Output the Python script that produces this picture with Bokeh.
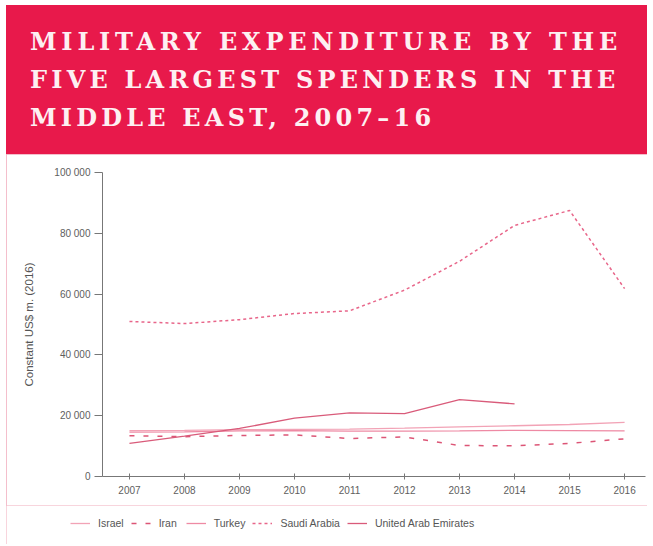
from bokeh.plotting import figure
from bokeh.models import Div, Legend, LegendItem, Range1d, CustomJSTickFormatter, FixedTicker
from bokeh.layouts import column, row
from bokeh.embed import file_html
from bokeh.resources import INLINE

# ---- data (constant US$ m., 2016) ----
years = [2007, 2008, 2009, 2010, 2011, 2012, 2013, 2014, 2015, 2016]
israel = [15100, 15200, 15400, 15500, 15600, 15900, 16300, 16700, 17100, 17800]
iran = [13400, 13100, 13500, 13700, 12500, 13000, 10200, 10100, 10900, 12400]
turkey = [14600, 14700, 15000, 15100, 14900, 14900, 15000, 15200, 15100, 15000]
saudi = [51000, 50300, 51600, 53600, 54500, 61300, 70800, 82600, 87500, 61800]
uae_years = [2007, 2008, 2009, 2010, 2011, 2012, 2013, 2014]
uae = [10900, 13300, 15800, 19200, 20900, 20700, 25300, 23900]
y_ticks = [0, 20000, 40000, 60000, 80000, 100000]
title_lines = ["MILITARY EXPENDITURE BY THE", "FIVE LARGEST SPENDERS IN THE", "MIDDLE EAST, 2007\u201316"]
title_spacing = [4.8, 4.2, 4.2]
y_label = "Constant US$ m. (2016)"

RED = "#e8194b"
BORDER = "#f0aabb"
FONT = "Liberation Sans"
W = 641

# ---- title block ----
lines_html = "".join(
    '<div style="letter-spacing:%spx;">%s</div>' % (ls, t) for t, ls in zip(title_lines, title_spacing)
)
title_html = (
    '<div style="width:%dpx;height:149px;background:%s;box-sizing:border-box;'
    'padding:18px 0 0 24px;font-family:\'DejaVu Serif\',serif;font-weight:bold;font-size:24px;'
    'line-height:38px;color:#fdf0f2;white-space:nowrap;">%s</div>'
    % (W, RED, lines_html)
)
title = Div(text=title_html, width=W, height=149, margin=0)

# ---- main plot ----
p = figure(width=W, height=351, x_range=Range1d(2006.51, 2016.38), y_range=Range1d(0, 100000),
           output_backend="svg", toolbar_location=None,
           min_border_left=96, min_border_right=2, min_border_top=18, min_border_bottom=29,
           styles={"outline": "1px solid " + BORDER, "outline-offset": "-1px"})
p.outline_line_color = None
p.grid.visible = False

p.yaxis.ticker = FixedTicker(ticks=y_ticks)
p.yaxis.formatter = CustomJSTickFormatter(code="return tick.toString().replace(/\\B(?=(\\d{3})+(?!\\d))/g, ' ');")
p.xaxis.ticker = FixedTicker(ticks=years)
p.yaxis.axis_label = y_label
p.yaxis.axis_label_standoff = 16
p.yaxis.axis_label_text_font_style = "normal"
p.yaxis.axis_label_text_font_size = "11.5px"
p.yaxis.axis_label_text_font = FONT
p.yaxis.axis_label_text_color = "#555555"

for ax in (p.xaxis, p.yaxis):
    ax.axis_line_color = "#777777"
    ax.major_tick_line_color = "#777777"
    ax.minor_tick_line_color = None
    ax.major_label_text_font = FONT
    ax.major_label_text_font_size = "10px"
    ax.major_label_text_color = "#5e5e5e"
p.yaxis.major_tick_out = 8
p.yaxis.major_tick_in = 0
p.yaxis.major_label_standoff = 4
p.xaxis.major_tick_out = 3
p.xaxis.major_tick_in = 3
p.xaxis.major_label_standoff = 6

styles = {
    "Israel": dict(color="#f2a3b6", width=1.3, dash="solid"),
    "Iran": dict(color="#dc5576", width=1.5, dash="5 9"),
    "Turkey": dict(color="#ee8aa4", width=1.3, dash="solid"),
    "Saudi Arabia": dict(color="#e8668a", width=1.5, dash="3 3"),
    "United Arab Emirates": dict(color="#d95b7a", width=1.3, dash="solid"),
}
series = {
    "Israel": (years, israel),
    "Iran": (years, iran),
    "Turkey": (years, turkey),
    "Saudi Arabia": (years, saudi),
    "United Arab Emirates": (uae_years, uae),
}
for name, (xs, ys) in series.items():
    s = styles[name]
    p.line(xs, ys, line_color=s["color"], line_width=s["width"], line_dash=s["dash"])

# ---- legend strip ----
lg = figure(width=W, height=39, output_backend="svg", toolbar_location=None,
            x_axis_type=None, y_axis_type=None, min_border=0,
            x_range=Range1d(0, 1), y_range=Range1d(0, 1),
            styles={"outline": "1px solid " + BORDER, "outline-offset": "-1px"})
lg.outline_line_color = None
lg.grid.visible = False
items = []
for name in series:
    s = styles[name]
    r = lg.line([-10, -9], [-10, -10], line_color=s["color"], line_width=s["width"], line_dash=s["dash"])
    items.append(LegendItem(label=name, renderers=[r]))
legend = Legend(items=items, orientation="horizontal", location=(64, 11),
                border_line_color=None, background_fill_alpha=0,
                padding=0, margin=0, spacing=7, label_standoff=8,
                glyph_width=20, glyph_height=20,
                label_text_font=FONT, label_text_font_size="10.5px", label_text_color="#555555")
lg.add_layout(legend)

layout = column(title, p, row(lg, margin=0), spacing=0, margin=(5, 0, 0, 6))
open("out.html", "w").write(file_html(layout, INLINE))
